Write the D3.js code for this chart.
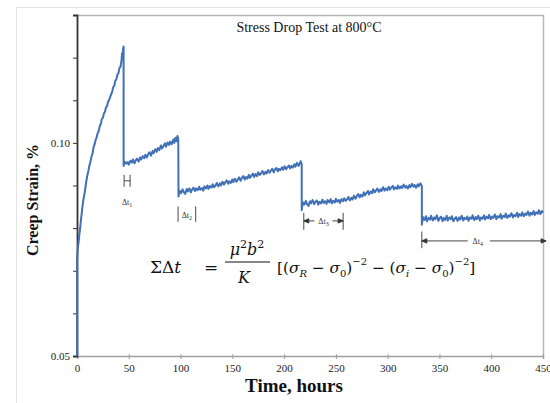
<!DOCTYPE html>
<html><head><meta charset="utf-8">
<script src="https://cdn.jsdelivr.net/npm/d3@7"></script>
<style>body{margin:0;background:#fff}svg{display:block}</style>
</head><body>
<svg id="c" width="550" height="403"></svg>
<script>
// ---- data (time in hours, creep strain in %) ----
const seg1 = [[0,0.0500],[0,0.0725],[0.5,0.0745],[1,0.0758],[1.5,0.0766],[2,0.0779],[3,0.0800],[4,0.0823],[5,0.0845],[6,0.0864],[7,0.0877],[8,0.0893],[9,0.0910],[10,0.0924],[11,0.0934],[12,0.0947],[13,0.0956],[14,0.0968],[15,0.0975],[16,0.0990],[17,0.0997],[18,0.1007],[19,0.1013],[20,0.1023],[21,0.1028],[22,0.1040],[23,0.1044],[24,0.1056],[25,0.1059],[26,0.1069],[27,0.1073],[28,0.1083],[29,0.1086],[30,0.1097],[31,0.1100],[32,0.1108],[33,0.1114],[34,0.1120],[35,0.1131],[36,0.1134],[37,0.1146],[38,0.1149],[39,0.1160],[40,0.1163],[41,0.1176],[42,0.1178],[43,0.1194],[43.5,0.1210],[44,0.1197],[44.5,0.1219],[45,0.1226]];
const seg2 = [[45,0.0946],[46,0.0956],[47.5,0.0951],[49,0.0955],[50,0.0949],[51.5,0.0958],[53,0.0954],[54,0.0961],[55.5,0.0952],[57,0.0960],[58,0.0963],[59.5,0.0956],[61,0.0966],[62,0.0961],[63.5,0.0969],[65,0.0964],[66,0.0972],[67.5,0.0966],[69,0.0975],[70,0.0978],[71.5,0.0970],[73,0.0981],[74,0.0976],[75.5,0.0985],[77,0.0979],[78,0.0988],[79.5,0.0983],[81,0.0994],[82,0.0987],[83.5,0.0992],[85,0.0999],[86,0.0991],[87.5,0.1001],[89,0.0995],[90,0.1003],[91.5,0.0997],[93,0.1008],[94,0.1000],[95,0.1012],[96,0.1004],[97,0.1016],[97.8,0.1008]];
const seg3 = [[98,0.0874],[99,0.0888],[100.5,0.0882],[102,0.0891],[103,0.0885],[104.5,0.0880],[106,0.0892],[107,0.0886],[108.5,0.0893],[110,0.0884],[111,0.0890],[112.5,0.0895],[114,0.0887],[115,0.0893],[116.5,0.0889],[118,0.0897],[119,0.0890],[120.5,0.0894],[122,0.0888],[123,0.0898],[124.5,0.0893],[126,0.0900],[127,0.0892],[128.5,0.0899],[130,0.0895],[131,0.0903],[132.5,0.0896],[134,0.0901],[135,0.0906],[136.5,0.0898],[138,0.0905],[139,0.0900],[140.5,0.0909],[142,0.0902],[143,0.0907],[144.5,0.0912],[146,0.0904],[147,0.0910],[148.5,0.0906],[150,0.0914],[151,0.0908],[152.5,0.0916],[154,0.0909],[155,0.0913],[156.5,0.0919],[158,0.0911],[159,0.0917],[160.5,0.0922],[162,0.0914],[163,0.0920],[164.5,0.0916],[166,0.0925],[167,0.0918],[168.5,0.0923],[170,0.0928],[171,0.0920],[172.5,0.0927],[174,0.0922],[175,0.0931],[176.5,0.0925],[178,0.0929],[179,0.0934],[180.5,0.0926],[182,0.0932],[183,0.0928],[184.5,0.0936],[186,0.0930],[187,0.0934],[188.5,0.0939],[190,0.0931],[191,0.0937],[192.5,0.0941],[194,0.0933],[195,0.0939],[196.5,0.0936],[198,0.0943],[199,0.0937],[200.5,0.0945],[202,0.0938],[203,0.0942],[204.5,0.0947],[206,0.0940],[207,0.0946],[208.5,0.0942],[210,0.0950],[211,0.0944],[212.5,0.0953],[214,0.0946],[215,0.0951],[216,0.0957],[217,0.0950]];
const seg4 = [[217,0.0842],[218,0.0861],[219.5,0.0855],[221,0.0864],[222,0.0857],[223.5,0.0852],[225,0.0863],[226,0.0858],[227.5,0.0866],[229,0.0856],[230,0.0861],[231.5,0.0865],[233,0.0855],[234,0.0862],[235.5,0.0858],[237,0.0867],[238,0.0859],[239.5,0.0863],[241,0.0857],[242,0.0866],[243.5,0.0861],[245,0.0868],[246,0.0858],[247.5,0.0864],[249,0.0860],[250,0.0869],[251.5,0.0862],[253,0.0866],[254,0.0859],[255.5,0.0868],[257,0.0863],[258,0.0870],[259.5,0.0864],[261,0.0868],[262,0.0873],[263.5,0.0865],[265,0.0871],[266,0.0867],[267.5,0.0876],[269,0.0869],[270,0.0874],[271.5,0.0880],[273,0.0872],[274,0.0878],[275.5,0.0874],[277,0.0884],[278,0.0877],[279.5,0.0882],[281,0.0887],[282,0.0879],[283.5,0.0886],[285,0.0882],[286,0.0891],[287.5,0.0884],[289,0.0889],[290,0.0893],[291.5,0.0885],[293,0.0891],[294,0.0887],[295.5,0.0896],[297,0.0888],[298,0.0893],[299.5,0.0889],[301,0.0897],[302,0.0890],[303.5,0.0895],[305,0.0899],[306,0.0891],[307.5,0.0896],[309,0.0892],[310,0.0900],[311.5,0.0893],[313,0.0898],[314,0.0894],[315.5,0.0902],[317,0.0895],[318,0.0899],[319.5,0.0893],[321,0.0901],[322,0.0896],[323.5,0.0904],[325,0.0897],[326,0.0901],[327.5,0.0895],[329,0.0903],[330,0.0898],[331.5,0.0905],[333,0.0899]];
const seg5 = [[333,0.0808],[334,0.0826],[335.5,0.0819],[337,0.0828],[338,0.0816],[339.5,0.0824],[341,0.0820],[342,0.0829],[343.5,0.0818],[345,0.0825],[346,0.0821],[347.5,0.0830],[349,0.0817],[350,0.0823],[351.5,0.0827],[353,0.0816],[354,0.0824],[355.5,0.0819],[357,0.0829],[358,0.0818],[359.5,0.0825],[361,0.0821],[362,0.0828],[363.5,0.0816],[365,0.0823],[366,0.0826],[367.5,0.0817],[369,0.0825],[370,0.0820],[371.5,0.0829],[373,0.0818],[374,0.0824],[375.5,0.0821],[377,0.0827],[378,0.0817],[379.5,0.0825],[381,0.0822],[382,0.0830],[383.5,0.0819],[385,0.0826],[386,0.0821],[387.5,0.0829],[389,0.0818],[390,0.0825],[391.5,0.0822],[393,0.0830],[394,0.0820],[395.5,0.0827],[397,0.0823],[398,0.0831],[399.5,0.0821],[401,0.0827],[402,0.0824],[403.5,0.0832],[405,0.0821],[406,0.0828],[407.5,0.0825],[409,0.0833],[410,0.0822],[411.5,0.0829],[413,0.0826],[414,0.0834],[415.5,0.0824],[417,0.0830],[418,0.0827],[419.5,0.0835],[421,0.0825],[422,0.0831],[423.5,0.0828],[425,0.0836],[426,0.0826],[427.5,0.0833],[429,0.0829],[430,0.0837],[431.5,0.0828],[433,0.0834],[434,0.0831],[435.5,0.0839],[437,0.0829],[438,0.0836],[439.5,0.0832],[441,0.0840],[442,0.0831],[443.5,0.0837],[445,0.0834],[446,0.0842],[447.5,0.0833],[449,0.0840],[450,0.0836]];

const xTicks = [0,50,100,150,200,250,300,350,400,450];
const yTicks = [0.05,0.06,0.07,0.08,0.09,0.10,0.11,0.12,0.13];
const yLabelled = [0.05,0.10];
const titleText = "Stress Drop Test at 800°C";
const xTitle = "Time, hours";
const yTitle = "Creep Strain, %";

// interval annotations: [t0, t1, label index]
const intervals = [[45.5,51.3,1],[97.6,114.6,2],[219,257,3],[333,453,4]];

// ---- chart ----
const svg = d3.select("#c");
const L = 77, R = 543, T = 15, B = 356;
const x = d3.scaleLinear().domain([0,450]).range([L,R]);
const y = d3.scaleLinear().domain([0.05,0.13]).range([B,T]);
const serif = "'Liberation Serif','Times New Roman',serif";

// outer light frame
svg.append("rect").attr("x",16.5).attr("y",7.5).attr("width",560).attr("height",420)
  .attr("fill","none").attr("stroke","#e3e3e3");

// plot border top/right
svg.append("path").attr("d",`M${L},${T+0.5}H${R+0.5}V${B}`).attr("fill","none").attr("stroke","#b8b8b8").attr("stroke-width",1.5);

// x axis
const gx = svg.append("g").attr("transform",`translate(0,${B})`)
  .call(d3.axisBottom(x).tickValues(xTicks).tickSize(3).tickFormat(d3.format("d")));
gx.attr("font-family",serif).attr("font-size",11);
gx.select(".domain").attr("stroke","#a0a0a0").attr("stroke-width",1.5);
gx.selectAll(".tick line").attr("stroke","#a0a0a0").attr("y1",-2);
gx.selectAll("text").style("font-family",serif).attr("font-size",11).attr("fill","#222").attr("dy","0.95em");

// y axis
const gy = svg.append("g").attr("transform",`translate(${L},0)`)
  .call(d3.axisLeft(y).tickValues(yTicks).tickSize(4).tickPadding(3)
    .tickFormat(d => yLabelled.some(v => Math.abs(v-d)<1e-9) ? d3.format(".2f")(d) : ""));
gy.attr("font-family",serif).attr("font-size",11);
gy.select(".domain").attr("stroke","#333").attr("stroke-width",1.8);
gy.selectAll(".tick line").attr("stroke","#333");
gy.selectAll("text").style("font-family",serif).attr("font-size",11).attr("fill","#222");

// curve
const data = [].concat(seg1, seg2, seg3, seg4, seg5);
svg.append("path").datum(data)
  .attr("d", d3.line().x(d=>x(d[0])).y(d=>y(d[1])))
  .attr("fill","none").attr("stroke","#3f70b8").attr("stroke-width",2).attr("stroke-linejoin","round");

// title
svg.append("text").attr("x",309).attr("y",32).attr("text-anchor","middle")
  .style("font-family",serif).attr("font-size",14).attr("fill","#111").text(titleText);
// axis titles
svg.append("text").attr("x",294).attr("y",392).attr("text-anchor","middle")
  .style("font-family",serif).attr("font-size",19).attr("font-weight","bold").attr("fill","#111").text(xTitle);
svg.append("text").attr("transform","translate(38,200) rotate(-90)").attr("text-anchor","middle")
  .style("font-family",serif).attr("font-size",16).attr("font-weight","bold").attr("fill","#111").text(yTitle);

// annotations
const ann = svg.append("g").attr("stroke","#333").attr("stroke-width",0.9).attr("fill","none");
function dtLabel(cx, cy, n){
  const t = svg.append("text").attr("x",cx).attr("y",cy).attr("text-anchor","middle")
    .style("font-family",serif).attr("font-size",8).attr("fill","#333");
  t.append("tspan").text("Δt");
  t.append("tspan").attr("font-size",6).attr("dy",2).text(n);
}
// Δt1: H bracket
{
  const [a,b] = intervals[0];
  ann.append("path").attr("d",`M${x(a)},${y(0.0925)}V${y(0.0897)}M${x(b)},${y(0.0925)}V${y(0.0897)}M${x(a)},${y(0.0911)}H${x(b)}`);
  dtLabel((x(a)+x(b))/2, 205, 1);
}
// Δt2: two bars with label between
{
  const [a,b] = intervals[1];
  ann.append("path").attr("d",`M${x(a)},${y(0.0851)}V${y(0.0815)}M${x(b)},${y(0.0851)}V${y(0.0815)}`);
  dtLabel((x(a)+x(b))/2, 218, 2);
}
function arrowHead(px, py, dir){
  ann.append("path").attr("d",`M${px},${py}L${px-dir*5},${py-2.2}L${px-dir*5},${py+2.2}Z`).attr("fill","#333");
}
// Δt3
{
  const [a,b] = intervals[2];
  const yy = y(0.0817), cx = (x(a)+x(b))/2;
  ann.append("path").attr("d",`M${x(a)},${y(0.0836)}V${y(0.0796)}M${x(b)},${y(0.0836)}V${y(0.0796)}`);
  ann.append("path").attr("d",`M${x(a)},${yy}H${cx-9}M${cx+9},${yy}H${x(b)}`);
  arrowHead(x(a), yy, -1); arrowHead(x(b), yy, 1);
  dtLabel(cx, yy+3, 3);
}
// Δt4
{
  const [a,b] = intervals[3];
  const yy = y(0.0770), cx = x(387);
  ann.append("path").attr("d",`M${x(a)},${y(0.0792)}V${y(0.0753)}`);
  ann.append("path").attr("d",`M${x(a)},${yy}H${cx-10}M${cx+12},${yy}H${x(b)}`);
  arrowHead(x(a), yy, -1); arrowHead(x(b), yy, 1);
  dtLabel(cx, yy+3, 4);
}

// formula
const mf = "'DejaVu Serif','Liberation Serif',serif";
const f = svg.append("g").style("font-family",mf).attr("fill","#111");
f.append("text").attr("x",150).attr("y",273).attr("font-size",17)
  .html('ΣΔ<tspan font-style="italic">t</tspan>');
f.append("text").attr("x",204).attr("y",273).attr("font-size",17).text("=");
const num = f.append("text").attr("x",247).attr("y",255).attr("text-anchor","middle").attr("font-size",16);
num.html('<tspan font-style="italic">μ</tspan><tspan font-size="11" dy="-7">2</tspan><tspan font-style="italic" dy="7">b</tspan><tspan font-size="11" dy="-7">2</tspan>');
f.append("line").attr("x1",225).attr("x2",270).attr("y1",262).attr("y2",262).attr("stroke","#111").attr("stroke-width",1);
f.append("text").attr("x",244).attr("y",283).attr("text-anchor","middle").attr("font-size",16).attr("font-style","italic").text("K");
f.append("text").attr("x",277).attr("y",273).attr("font-size",15.3)
  .html('[(<tspan font-style="italic">σ</tspan><tspan font-size="10" font-style="italic" dy="4">R</tspan><tspan dy="-4"> − </tspan><tspan font-style="italic">σ</tspan><tspan font-size="10" dy="4">0</tspan><tspan dy="-4">)</tspan><tspan font-size="10" dy="-8">−2</tspan><tspan dy="8"> − (</tspan><tspan font-style="italic">σ</tspan><tspan font-size="10" font-style="italic" dy="4">i</tspan><tspan dy="-4"> − </tspan><tspan font-style="italic">σ</tspan><tspan font-size="10" dy="4">0</tspan><tspan dy="-4">)</tspan><tspan font-size="10" dy="-8">−2</tspan><tspan dy="8">]</tspan>');
</script>
</body></html>
